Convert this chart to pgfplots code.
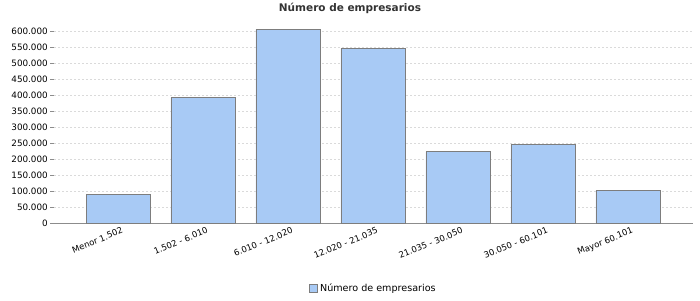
\documentclass[border=0pt]{standalone}
\usepackage{pgfplots}
\pgfplotsset{compat=1.18}
\usepackage{fontspec}
\setmainfont{DejaVu Sans}
\usetikzlibrary{calc}
\definecolor{barfill}{RGB}{168,202,245}
\definecolor{baredge}{RGB}{125,125,125}
\definecolor{gridc}{RGB}{218,218,218}
\definecolor{axc}{RGB}{140,140,140}
\begin{document}
\begin{tikzpicture}
\begin{axis}[
  scale only axis,
  width=639pt, height=198.4pt,
  xmin=-0.753, xmax=6.765,
  ymin=0, ymax=620000,
  axis x line*=bottom, axis y line*=left,
  x axis line style={axc, line width=0.8pt, -},
  y axis line style={draw=none},
  ytick={0,50000,100000,150000,200000,250000,300000,350000,400000,450000,500000,550000,600000},
  yticklabels={0,50.000,100.000,150.000,200.000,250.000,300.000,350.000,400.000,450.000,500.000,550.000,600.000},
  xtick={0,1,2,3,4,5,6},
  xticklabels={Menor 1.502, 1.502 - 6.010, 6.010 - 12.020, 12.020 - 21.035, 21.035 - 30.050, 30.050 - 60.101, Mayor 60.101},
  x tick label style={rotate=22, anchor=north east, font=\fontsize{8.5}{10}\selectfont, inner sep=1pt, xshift=4pt},
  y tick label style={font=\fontsize{8.8}{10}\selectfont, inner sep=2pt},
  scaled y ticks=false,
  major tick length=4pt,
  xtick style={draw=none},
  ytick style={draw=axc},
  tick align=outside,
  ymajorgrids,
  grid style={gridc, dash pattern=on 2pt off 2pt, line width=0.5pt},
  legend style={at={(0.5,-0.33)}, anchor=center, draw=none, font=\fontsize{9.6}{11}\selectfont},
  legend image code/.code={\draw[#1] (0pt,-3.5pt) rectangle (8pt,4.5pt);},
]
\addplot[ybar, bar width=0.753, fill=barfill, draw=baredge, line width=0.8pt] coordinates {
(0,90600) (1,392800) (2,605000) (3,546000) (4,222900) (5,245800) (6,102000)};
\addlegendentry{Número de empresarios}
\coordinate (O) at (rel axis cs:0,0);
\end{axis}
\node[font=\bfseries\fontsize{10.5}{12}\selectfont, text=black!80] at ($(O)+(296pt,215pt)$) {Número de empresarios};
\pgfresetboundingbox
\path[use as bounding box] ($(O)+(-54pt,-77pt)$) rectangle ($(O)+(646pt,223pt)$);
\end{tikzpicture}
\end{document}
